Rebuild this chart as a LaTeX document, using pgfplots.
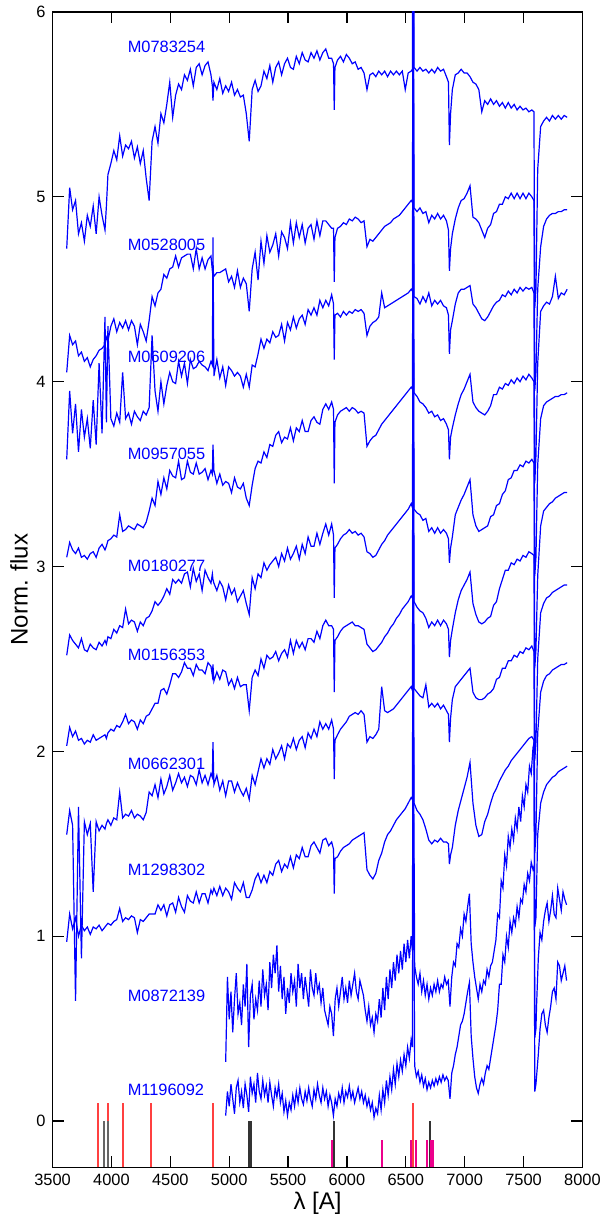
\documentclass[border=0pt]{standalone}
\usepackage{fontspec}
\setmainfont{Liberation Sans}
\usepackage{pgfplots}
\pgfplotsset{compat=1.18}
\usepackage{pgfplotstable}

% normalised, offset spectra: L = wavelength, a..h = one column per star
\pgfplotstableread{
L a b c d e f g h
3620 4.72 4.05 3.58 3.05 2.52 2.03 1.55 0.97
3645 5.05 4.25 3.95 3.13 2.63 2.13 1.68 1.12
3670 4.93 4.20 3.72 3.09 2.60 2.08 1.60 1.04
3695 4.98 4.22 3.88 3.07 2.58 2.11 0.65 1.10
3720 4.80 4.14 3.62 3.10 2.56 2.06 1.70 1.00
3745 4.86 4.16 3.85 3.05 2.61 2.07 0.88 1.06
3770 4.76 4.11 3.70 3.06 2.55 2.04 1.62 1.03
3795 4.90 4.13 3.80 3.04 2.54 2.06 1.55 1.05
3820 4.84 4.08 3.64 3.07 2.58 2.05 1.61 1.01
3845 4.95 4.12 3.90 3.08 2.56 2.09 1.24 1.05
3870 4.80 4.14 3.66 3.05 2.55 2.06 1.62 1.04
3895 5.00 4.17 4.10 3.10 2.59 2.07 1.57 1.06
3920 4.90 4.18 3.72 3.12 2.57 2.08 1.60 1.03
3945 4.82 4.20 4.35 3.09 2.60 2.09 1.58 1.05
3957 4.95 4.24 3.78 3.11 2.58 2.07 1.61 1.06
3970 5.12 4.22 4.30 3.14 2.62 2.10 1.63 1.07
3995 5.18 4.30 3.80 3.15 2.61 2.12 1.60 1.06
4020 5.25 4.34 3.76 3.17 2.66 2.11 1.64 1.08
4045 5.20 4.27 3.83 3.16 2.64 2.14 1.63 1.09
4070 5.33 4.32 3.78 3.28 2.68 2.13 1.78 1.15
4095 5.22 4.29 4.05 3.19 2.67 2.16 1.64 1.08
4120 5.28 4.33 3.80 3.20 2.77 2.20 1.66 1.10
4145 5.26 4.28 3.83 3.22 2.69 2.15 1.65 1.09
4170 5.30 4.33 3.77 3.21 2.71 2.17 1.68 1.11
4195 5.21 4.30 3.84 3.20 2.70 2.16 1.64 1.10
4220 5.27 4.20 3.81 3.23 2.65 2.12 1.66 1.02
4245 5.18 4.31 3.79 3.22 2.70 2.17 1.65 1.09
4270 5.25 4.27 3.84 3.21 2.68 2.15 1.63 1.08
4295 5.10 4.22 3.82 3.24 2.72 2.19 1.67 1.10
4320 4.98 4.33 3.86 3.30 2.73 2.20 1.78 1.12
4345 5.30 4.46 4.25 3.37 2.76 2.23 1.76 1.12
4370 5.38 4.41 3.95 3.33 2.81 2.26 1.82 1.12
4395 5.29 4.48 3.84 3.46 2.79 2.26 1.75 1.17
4420 5.45 4.50 4.00 3.39 2.81 2.33 1.85 1.14
4445 5.40 4.58 3.88 3.48 2.84 2.34 1.77 1.17
4470 5.50 4.56 3.98 3.42 2.88 2.31 1.81 1.11
4495 5.62 4.61 4.05 3.52 2.85 2.36 1.87 1.17
4520 5.43 4.62 4.00 3.49 2.93 2.42 1.79 1.18
4545 5.55 4.68 3.99 3.48 2.91 2.42 1.83 1.13
4570 5.61 4.62 4.11 3.57 2.93 2.40 1.88 1.21
4595 5.58 4.67 4.03 3.47 2.91 2.43 1.83 1.16
4620 5.66 4.68 4.10 3.48 2.96 2.48 1.86 1.13
4645 5.63 4.69 3.99 3.57 2.97 2.45 1.81 1.22
4670 5.69 4.69 4.12 3.51 2.89 2.45 1.87 1.19
4695 5.60 4.61 4.07 3.50 2.99 2.41 1.86 1.18
4720 5.70 4.72 4.08 3.56 2.92 2.47 1.82 1.24
4745 5.72 4.61 4.11 3.50 2.96 2.44 1.90 1.18
4770 5.66 4.67 4.09 3.51 2.87 2.44 1.83 1.23
4795 5.71 4.61 4.08 3.53 2.98 2.42 1.87 1.23
4820 5.73 4.66 4.06 3.47 2.94 2.48 1.82 1.18
4845 5.66 4.68 4.11 3.52 2.91 2.46 1.88 1.25
4857 5.60 4.60 4.09 3.50 2.96 2.41 1.86 1.23
4862 5.52 4.61 4.78 3.66 2.93 2.47 2.05 1.24
4870 5.62 4.57 4.03 3.52 2.91 2.38 1.82 1.26
4895 5.58 4.59 4.12 3.45 2.87 2.43 1.87 1.22
4920 5.64 4.59 4.02 3.50 2.92 2.39 1.79 1.27
4945 5.56 4.60 4.08 3.44 2.89 2.44 1.84 1.22
4970 5.60 4.61 3.98 3.46 2.82 2.43 1.76 1.26
4995 5.57 4.54 4.08 3.45 2.90 2.36 1.84 1.24
5020 5.62 4.57 4.06 3.40 2.85 2.39 1.84 1.20
5045 5.55 4.51 4.03 3.48 2.88 2.34 1.78 1.29
5070 5.58 4.60 4.05 3.43 2.81 2.40 1.83 1.26
5095 5.54 4.51 4.03 3.42 2.84 2.35 1.79 1.24
5120 5.55 4.56 3.97 3.45 2.87 2.36 1.76 1.29
5145 5.45 4.53 4.04 3.37 2.80 2.36 1.80 1.21
5170 5.30 4.38 3.97 3.33 2.74 2.22 1.74 1.21
5195 5.58 4.61 4.09 3.44 2.94 2.40 1.87 1.25
5220 5.63 4.70 4.08 3.53 2.88 2.44 1.82 1.31
5245 5.57 4.55 4.15 3.57 2.96 2.41 1.89 1.34
5270 5.60 4.76 4.23 3.56 2.94 2.50 1.96 1.29
5295 5.68 4.64 4.18 3.62 3.02 2.45 1.91 1.33
5320 5.64 4.79 4.23 3.59 2.98 2.52 1.96 1.29
5345 5.71 4.70 4.21 3.66 3.01 2.50 1.93 1.35
5370 5.62 4.74 4.27 3.65 3.03 2.51 2.01 1.33
5395 5.70 4.80 4.24 3.71 3.05 2.54 1.96 1.39
5420 5.73 4.68 4.25 3.73 3.00 2.49 1.99 1.41
5445 5.66 4.81 4.31 3.67 3.07 2.53 2.03 1.35
5470 5.72 4.78 4.22 3.70 3.03 2.55 1.96 1.39
5495 5.75 4.72 4.32 3.69 3.10 2.51 2.04 1.37
5520 5.70 4.86 4.28 3.75 3.04 2.60 2.02 1.43
5545 5.69 4.75 4.35 3.68 3.07 2.53 2.07 1.37
5570 5.76 4.86 4.29 3.75 3.11 2.60 2.01 1.44
5595 5.72 4.78 4.34 3.73 3.04 2.56 2.06 1.42
5620 5.78 4.85 4.36 3.79 3.12 2.59 2.08 1.48
5645 5.74 4.75 4.31 3.73 3.07 2.55 2.02 1.43
5670 5.73 4.83 4.39 3.73 3.16 2.61 2.10 1.43
5695 5.78 4.85 4.36 3.79 3.11 2.61 2.07 1.49
5720 5.75 4.77 4.40 3.81 3.11 2.59 2.12 1.51
5745 5.79 4.87 4.36 3.78 3.18 2.65 2.08 1.48
5770 5.74 4.79 4.44 3.77 3.12 2.61 2.16 1.45
5795 5.78 4.87 4.40 3.85 3.18 2.68 2.12 1.52
5820 5.80 4.87 4.44 3.88 3.23 2.71 2.15 1.53
5845 5.75 4.85 4.41 3.85 3.17 2.68 2.12 1.49
5870 5.75 4.83 4.47 3.89 3.23 2.68 2.17 1.51
5886 5.72 4.83 4.42 3.85 3.17 2.66 2.12 1.47
5892 5.47 4.54 4.12 3.45 2.83 2.32 1.85 1.23
5898 5.70 4.78 4.36 3.78 3.10 2.60 2.06 1.42
5920 5.74 4.83 4.37 3.82 3.12 2.62 2.09 1.43
5945 5.76 4.84 4.35 3.84 3.15 2.65 2.12 1.46
5970 5.73 4.86 4.38 3.85 3.17 2.67 2.14 1.48
5995 5.77 4.85 4.36 3.86 3.18 2.68 2.16 1.49
6020 5.75 4.88 4.38 3.84 3.20 2.69 2.19 1.50
6045 5.72 4.87 4.37 3.86 3.18 2.70 2.20 1.52
6070 5.73 4.89 4.39 3.85 3.19 2.68 2.21 1.53
6095 5.69 4.88 4.38 3.83 3.17 2.68 2.20 1.54
6120 5.70 4.86 4.39 3.84 3.18 2.67 2.22 1.55
6145 5.67 4.87 4.37 3.83 3.16 2.66 2.20 1.56
6170 5.58 4.73 4.25 3.65 3.08 2.58 2.05 1.36
6195 5.66 4.77 4.30 3.68 3.07 2.56 2.08 1.33
6220 5.67 4.76 4.32 3.70 3.05 2.54 2.07 1.31
6245 5.65 4.78 4.33 3.71 3.06 2.55 2.09 1.34
6270 5.68 4.80 4.35 3.74 3.09 2.57 2.12 1.41
6295 5.66 4.82 4.48 3.77 3.12 2.59 2.35 1.45
6320 5.68 4.84 4.40 3.79 3.14 2.62 2.22 1.51
6345 5.65 4.85 4.41 3.81 3.17 2.64 2.21 1.55
6370 5.68 4.86 4.42 3.83 3.19 2.67 2.22 1.57
6395 5.66 4.88 4.43 3.85 3.21 2.69 2.23 1.60
6420 5.68 4.89 4.44 3.87 3.23 2.72 2.25 1.63
6445 5.66 4.90 4.45 3.89 3.25 2.74 2.27 1.65
6470 5.68 4.92 4.46 3.91 3.27 2.77 2.29 1.67
6495 5.58 4.94 4.47 3.93 3.29 2.79 2.31 1.69
6520 5.67 4.96 4.48 3.95 3.31 2.81 2.33 1.72
6545 5.68 4.98 4.50 3.97 3.34 2.84 2.35 1.75
6556 5.69 4.97 4.49 3.96 3.32 2.83 2.33 1.74
6561 6.90 6.10 6.00 5.00 4.50 4.10 3.60 3.00
6565 6.80 5.90 5.90 4.90 4.40 4.00 3.50 2.90
6570 5.70 4.94 4.46 3.94 3.31 2.81 2.34 1.72
6595 5.68 4.92 4.45 3.92 3.29 2.78 2.32 1.68
6620 5.70 4.94 4.42 3.89 3.28 2.76 2.30 1.66
6645 5.68 4.91 4.46 3.88 3.25 2.75 2.29 1.63
6670 5.69 4.92 4.43 3.86 3.26 2.72 2.36 1.58
6695 5.67 4.86 4.48 3.83 3.19 2.67 2.24 1.52
6720 5.69 4.90 4.41 3.84 3.21 2.70 2.26 1.50
6745 5.67 4.88 4.44 3.81 3.18 2.68 2.24 1.52
6770 5.70 4.91 4.42 3.82 3.21 2.71 2.26 1.51
6795 5.68 4.88 4.44 3.79 3.18 2.68 2.23 1.53
6820 5.69 4.90 4.41 3.80 3.20 2.71 2.25 1.51
6845 5.65 4.87 4.40 3.77 3.18 2.69 2.22 1.51
6862 5.62 4.82 4.36 3.74 3.15 2.66 2.20 1.50
6870 5.28 4.60 4.15 3.58 3.02 2.51 2.05 1.39
6880 5.45 4.72 4.28 3.70 3.10 2.60 2.18 1.44
6895 5.58 4.80 4.33 3.75 3.16 2.66 2.28 1.48
6920 5.66 4.88 4.42 3.82 3.28 2.75 2.35 1.60
6945 5.67 4.94 4.48 3.88 3.32 2.82 2.37 1.68
6970 5.69 4.98 4.50 3.93 3.36 2.87 2.39 1.74
6995 5.67 4.99 4.50 3.96 3.39 2.90 2.41 1.80
7020 5.67 5.02 4.51 4.00 3.43 2.93 2.43 1.86
7045 5.65 5.06 4.52 4.04 3.47 2.97 2.45 1.94
7070 5.62 4.89 4.42 3.89 3.28 2.80 2.32 1.72
7095 5.61 4.88 4.40 3.86 3.22 2.74 2.29 1.60
7120 5.58 4.86 4.37 3.84 3.19 2.70 2.28 1.54
7145 5.46 4.82 4.34 3.83 3.20 2.69 2.28 1.55
7170 5.52 4.78 4.33 3.82 3.21 2.70 2.29 1.62
7195 5.50 4.83 4.35 3.84 3.22 2.72 2.31 1.66
7220 5.53 4.85 4.38 3.87 3.27 2.73 2.32 1.72
7245 5.50 4.91 4.41 3.93 3.28 2.79 2.34 1.77
7270 5.52 4.92 4.43 3.93 3.33 2.81 2.39 1.80
7295 5.49 4.96 4.44 3.97 3.34 2.88 2.40 1.84
7320 5.51 4.96 4.47 3.96 3.39 2.93 2.45 1.87
7345 5.48 5.00 4.46 3.99 3.41 2.98 2.45 1.90
7370 5.51 4.99 4.49 3.98 3.47 2.98 2.49 1.92
7395 5.48 5.02 4.47 4.01 3.48 3.02 2.49 1.95
7420 5.50 4.99 4.50 3.99 3.52 3.01 2.52 1.97
7445 5.47 5.02 4.48 4.02 3.52 3.04 2.51 1.99
7470 5.49 4.99 4.51 4.00 3.55 3.03 2.54 2.01
7495 5.47 5.02 4.49 4.03 3.54 3.06 2.53 2.03
7520 5.48 4.99 4.51 4.01 3.57 3.05 2.56 2.05
7545 5.46 5.02 4.50 4.04 3.56 3.08 2.55 2.07
7570 5.47 5.00 4.51 4.02 3.58 3.07 2.57 2.08
7588 5.46 4.98 4.48 4.00 3.56 3.06 2.54 2.06
7595 4.40 3.95 3.45 2.95 2.45 1.95 1.45 1.05
7605 4.50 4.05 3.60 3.05 2.55 2.05 1.55 1.10
7620 5.15 4.50 4.10 3.55 2.95 2.50 2.10 1.55
7645 5.38 4.73 4.38 3.80 3.22 2.75 2.32 1.72
7670 5.41 4.84 4.41 3.87 3.30 2.80 2.38 1.78
7695 5.43 4.88 4.43 3.89 3.32 2.83 2.41 1.82
7720 5.41 4.90 4.42 3.90 3.34 2.84 2.42 1.84
7745 5.44 4.91 4.46 3.91 3.35 2.86 2.44 1.86
7770 5.42 4.91 4.57 3.92 3.37 2.87 2.45 1.87
7795 5.44 4.92 4.45 3.92 3.38 2.88 2.46 1.89
7820 5.42 4.92 4.48 3.93 3.39 2.89 2.47 1.90
7845 5.44 4.93 4.47 3.93 3.40 2.90 2.47 1.91
7870 5.43 4.93 4.50 3.94 3.40 2.90 2.48 1.92
}\spec

% the two faint red stars, covered from 4970 A only
\pgfplotstableread{
L i k
4970 0.32 0.03
4985 0.78 0.16
5000 0.55 0.08
5015 0.70 0.20
5030 0.48 0.12
5045 0.66 0.04
5060 0.80 0.18
5075 0.58 0.22
5090 0.64 0.10
5105 0.52 0.16
5120 0.74 0.07
5135 0.62 0.20
5150 0.85 0.14
5165 0.40 0.05
5180 0.68 0.24
5195 0.74 0.15
5210 0.55 0.20
5225 0.66 0.10
5240 0.60 0.26
5255 0.76 0.16
5270 0.62 0.12
5285 0.82 0.22
5300 0.68 0.14
5315 0.74 0.19
5330 0.60 0.10
5345 0.86 0.21
5360 0.72 0.14
5375 0.90 0.08
5390 0.80 0.18
5405 0.95 0.13
5420 0.70 0.20
5435 0.84 0.10
5450 0.66 0.15
5465 0.78 0.05
5480 0.58 0.11
5495 0.72 0.03
5510 0.64 0.10
5525 0.80 0.06
5540 0.70 0.14
5555 0.76 0.08
5570 0.62 0.16
5585 0.85 0.10
5600 0.72 0.18
5615 0.80 0.12
5630 0.66 0.09
5645 0.78 0.16
5660 0.70 0.11
5675 0.62 0.18
5690 0.82 0.12
5705 0.72 0.08
5720 0.68 0.17
5735 0.80 0.12
5750 0.70 0.20
5765 0.74 0.14
5780 0.64 0.10
5795 0.72 0.18
5810 0.60 0.12
5825 0.56 0.16
5840 0.52 0.08
5855 0.62 0.14
5870 0.58 0.10
5885 0.46 0.03
5900 0.66 0.12
5915 0.72 0.08
5930 0.62 0.15
5945 0.70 0.11
5960 0.78 0.18
5975 0.66 0.10
5990 0.72 0.16
6005 0.64 0.13
6020 0.76 0.19
6035 0.68 0.12
6050 0.74 0.16
6065 0.80 0.10
6080 0.70 0.14
6095 0.66 0.18
6110 0.76 0.12
6125 0.72 0.16
6140 0.68 0.10
6155 0.60 0.14
6170 0.54 0.08
6185 0.62 0.12
6200 0.52 0.06
6215 0.56 0.10
6230 0.48 0.02
6245 0.58 0.07
6260 0.54 0.04
6275 0.66 0.14
6290 0.56 0.06
6305 0.72 0.17
6320 0.60 0.10
6335 0.78 0.22
6350 0.66 0.14
6365 0.82 0.24
6380 0.72 0.17
6395 0.86 0.28
6410 0.76 0.20
6425 0.90 0.31
6440 0.80 0.24
6455 0.92 0.33
6470 0.82 0.27
6485 0.96 0.36
6500 0.86 0.30
6515 0.98 0.40
6530 0.88 0.34
6545 1.00 0.44
6556 0.92 0.40
6560 2.20 1.70
6565 2.10 1.60
6575 0.84 0.30
6590 0.78 0.24
6605 0.74 0.27
6620 0.80 0.21
6635 0.70 0.25
6650 0.76 0.19
6665 0.68 0.23
6680 0.74 0.17
6695 0.66 0.21
6710 0.72 0.18
6725 0.68 0.22
6740 0.74 0.19
6755 0.70 0.23
6770 0.76 0.20
6785 0.70 0.24
6800 0.74 0.21
6815 0.72 0.25
6830 0.78 0.22
6845 0.74 0.24
6860 0.76 0.22
6875 0.62 0.12
6890 0.78 0.26
6905 0.86 0.30
6920 0.84 0.36
6935 0.96 0.40
6950 0.94 0.46
6965 1.04 0.52
6980 1.00 0.54
6995 1.12 0.58
7010 1.08 0.64
7025 1.16 0.70
7040 1.23 0.75
7055 0.96 0.46
7070 0.86 0.34
7085 0.78 0.24
7100 0.72 0.18
7115 0.66 0.15
7130 0.74 0.20
7145 0.70 0.23
7160 0.76 0.20
7175 0.74 0.26
7190 0.82 0.30
7205 0.78 0.28
7220 0.84 0.34
7235 0.86 0.40
7250 0.92 0.46
7265 0.98 0.52
7280 1.12 0.60
7295 1.10 0.74
7310 1.30 0.74
7325 1.26 0.90
7340 1.44 0.86
7355 1.38 1.00
7370 1.54 0.94
7385 1.48 1.08
7400 1.58 1.02
7415 1.52 1.10
7430 1.64 1.06
7445 1.58 1.16
7460 1.70 1.10
7475 1.62 1.20
7490 1.76 1.18
7505 1.70 1.28
7520 1.82 1.24
7535 1.78 1.34
7550 1.92 1.30
7565 1.88 1.40
7580 2.02 1.36
7590 2.05 1.38
7595 0.45 0.16
7605 0.50 0.20
7610 0.62 0.24
7625 0.88 0.36
7640 1.02 0.50
7655 0.98 0.58
7670 1.08 0.60
7685 1.14 0.52
7700 1.18 0.48
7715 1.08 0.56
7730 1.14 0.62
7745 1.22 0.70
7760 1.12 0.72
7775 1.10 0.66
7790 1.26 0.86
7805 1.20 0.84
7820 1.14 0.76
7835 1.24 0.80
7850 1.20 0.84
7865 1.17 0.76
}\faint

\begin{document}
\begin{tikzpicture}
\begin{axis}[
  scale only axis,
  width=265pt, height=577.8pt,
  xmin=3500, xmax=8000, ymin=-0.25, ymax=6,
  xtick={3500,4000,...,8000},
  ytick={0,1,2,3,4,5,6},
  tick align=inside,
  major tick length=5.6pt,
  tick style={black, line width=0.6pt},
  axis line style={line width=0.7pt},
  xticklabel style={/pgf/number format/set thousands separator={}},
  /pgf/number format/assume math mode=true,
  tick label style={font=\fontsize{8.2}{9}\selectfont},
  label style={font=\fontsize{12}{14}\selectfont},
  xlabel={λ [A]},
  ylabel={Norm. flux},
  xlabel style={at={(axis description cs:0.5,0)}, anchor=center, yshift=-18pt},
  ylabel style={at={(axis description cs:-0.0634,0.5)}, anchor=center},
  unbounded coords=jump,
]
% line markers along the bottom
\addplot[red!75!white, line width=1pt, forget plot] coordinates {
  (3889,-0.25) (3889,0.1) (3889,nan)
  (3970,-0.25) (3970,0.1) (3970,nan)
  (4102,-0.25) (4102,0.1) (4102,nan)
  (4340,-0.25) (4340,0.1) (4340,nan)
  (4861,-0.25) (4861,0.1) (4861,nan)
  (6563,-0.25) (6563,0.1)};
\addplot[black!60, line width=0.9pt, forget plot] coordinates {
  (3934,-0.25) (3934,0) (3934,nan)
  (3968,-0.25) (3968,0)};
\addplot[black!80, line width=1pt, forget plot] coordinates {
  (5170,-0.25) (5170,0) (5170,nan)
  (5184,-0.25) (5184,0) (5184,nan)
  (5893,-0.25) (5893,0) (5893,nan)
  (6708,-0.25) (6708,0)};
\addplot[magenta, line width=1pt, forget plot] coordinates {
  (5876,-0.25) (5876,-0.1) (5876,nan)
  (6300,-0.25) (6300,-0.1) (6300,nan)
  (6548,-0.25) (6548,-0.1) (6548,nan)
  (6583,-0.25) (6583,-0.1) (6583,nan)
  (6678,-0.25) (6678,-0.1) (6678,nan)
  (6716,-0.25) (6716,-0.1) (6716,nan)
  (6724,-0.25) (6724,-0.1) (6724,nan)
  (6731,-0.25) (6731,-0.1)};
% spectra
\addplot[blue, line width=0.6pt] table[x=L, y=a] {\spec};
\addplot[blue, line width=0.6pt] table[x=L, y=b] {\spec};
\addplot[blue, line width=0.6pt] table[x=L, y=c] {\spec};
\addplot[blue, line width=0.6pt] table[x=L, y=d] {\spec};
\addplot[blue, line width=0.6pt] table[x=L, y=e] {\spec};
\addplot[blue, line width=0.6pt] table[x=L, y=f] {\spec};
\addplot[blue, line width=0.6pt] table[x=L, y=g] {\spec};
\addplot[blue, line width=0.6pt] table[x=L, y=h] {\spec};
\addplot[blue, line width=0.6pt] table[x=L, y=i] {\faint};
\addplot[blue, line width=0.6pt] table[x=L, y=k] {\faint};
% star names
\begin{scope}[every node/.style={anchor=west, inner sep=0pt, text=blue, font=\fontsize{8.2}{9}\selectfont}]
\node at (axis cs:4135,5.81) {M0783254};
\node at (axis cs:4135,4.74) {M0528005};
\node at (axis cs:4135,4.135) {M0609206};
\node at (axis cs:4135,3.61) {M0957055};
\node at (axis cs:4135,3.005) {M0180277};
\node at (axis cs:4135,2.52) {M0156353};
\node at (axis cs:4135,1.93) {M0662301};
\node at (axis cs:4135,1.36) {M1298302};
\node at (axis cs:4135,0.68) {M0872139};
\node at (axis cs:4135,0.17) {M1196092};
\end{scope}
\end{axis}
\pgfresetboundingbox
\path[use as bounding box] (-26.3pt,-25.35pt) rectangle (274.15pt,583.8pt);
\end{tikzpicture}
\end{document}
